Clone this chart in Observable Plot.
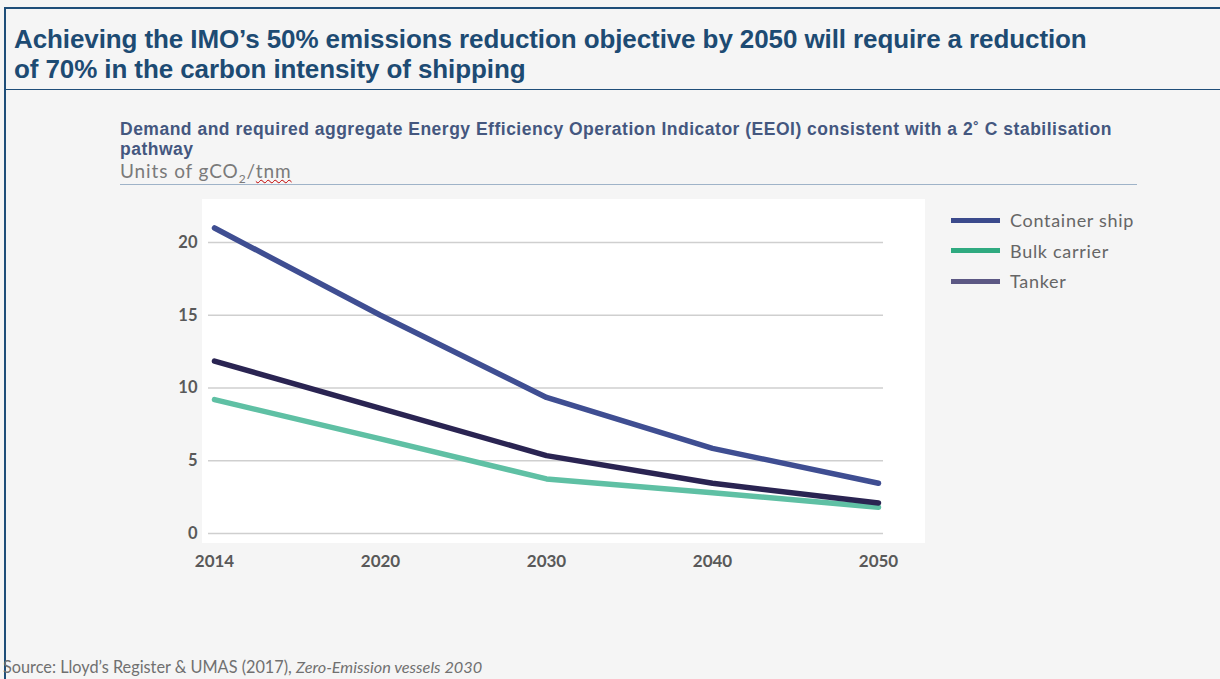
<!DOCTYPE html>
<html>
<head>
<meta charset="utf-8">
<script src="https://cdn.jsdelivr.net/npm/d3@7"></script>
<script src="https://cdn.jsdelivr.net/npm/@observablehq/plot@0.6"></script>
<style>
  html, body { margin: 0; padding: 0; }
  body { width: 1220px; height: 679px; background: #f5f5f5; position: relative; overflow: hidden; font-family: Lato, "Open Sans", sans-serif; }
  .frame-top { position: absolute; left: 5px; top: 7px; width: 1215px; height: 0; border-top: 2px solid #1f4e79; }
  .frame-left { position: absolute; left: 4px; top: 7px; width: 0; height: 672px; border-left: 2px solid #1f4e79; }
  .title-rule { position: absolute; left: 5px; top: 89px; width: 1215px; border-top: 1.5px solid #1f4e79; }
  h1 { position: absolute; left: 14px; top: 24px; margin: 0; font-family: "Liberation Sans", Arial, sans-serif; font-weight: bold; font-size: 26px; line-height: 30px; color: #1d4b73; letter-spacing: -0.1px; white-space: nowrap; }
  .sub { position: absolute; left: 120px; top: 119px; width: 1010px; font-family: "Liberation Sans", Arial, sans-serif; font-weight: bold; font-size: 17.5px; line-height: 20px; color: #44577f; letter-spacing: 0.5px; }
  .units { position: absolute; left: 120px; top: 159px; font-family: Lato, sans-serif; font-size: 19px; letter-spacing: 0.9px; color: #7a7a7a; }
  .units span.u { text-decoration: underline wavy #c00000; text-decoration-thickness: 1px; }
  .sub-rule { position: absolute; left: 120px; top: 184px; width: 1017px; border-top: 1.5px solid #9fb3c8; }
  .panel { position: absolute; left: 202px; top: 199px; width: 723px; height: 344px; background: #ffffff; }
  #chart { position: absolute; left: 140px; top: 190px; }
  .legend { position: absolute; left: 951px; top: 205px; font-family: Lato, sans-serif; font-size: 18px; letter-spacing: 0.7px; color: #666; }
  .legend div { height: 30.5px; display: flex; align-items: center; }
  .legend i { display: inline-block; width: 49px; height: 5px; margin-right: 10px; }
  .source { position: absolute; left: 3px; top: 657px; font-family: Lato, sans-serif; font-size: 16.3px; color: #707070; }
</style>
</head>
<body>
<div class="frame-top"></div>
<div class="frame-left"></div>
<h1>Achieving the IMO’s 50% emissions reduction objective by 2050 will require a reduction<br>of 70% in the carbon intensity of shipping</h1>
<div class="title-rule"></div>
<div class="sub">Demand and required aggregate Energy Efficiency Operation Indicator (EEOI) consistent with a 2˚ C stabilisation pathway</div>
<div class="units">Units of gCO<sub style="font-size:12px">2</sub>/<span class="u">tnm</span></div>
<div class="sub-rule"></div>
<div class="panel"></div>
<div id="chart"></div>
<div class="legend" id="legend"></div>
<div class="source">Source: Lloyd’s Register &amp; UMAS (2017), <i>Zero-Emission vessels 2030</i></div>
<script>
const years = ["2014", "2020", "2030", "2040", "2050"];
const containerShip = [21.0, 15.0, 9.35, 5.85, 3.45];
const bulkCarrier = [9.2, 6.5, 3.75, 2.8, 1.8];
const tanker = [11.85, 8.6, 5.35, 3.45, 2.1];
const seriesNames = ["Container ship", "Bulk carrier", "Tanker"];
const lineColors = ["#3f4e92", "#5fc0a4", "#2a2452"];
const legendColors = ["#3b4a8c", "#2faa80", "#5c5884"];
const yTicks = [0, 5, 10, 15, 20];

const seriesValues = [containerShip, bulkCarrier, tanker];
const rows = [];
seriesNames.forEach((name, i) => {
  years.forEach((yr, j) => rows.push({series: name, year: yr, value: seriesValues[i][j]}));
});

const chart = Plot.plot({
  width: 800,
  height: 390,
  marginLeft: 68,
  marginRight: 57,
  marginTop: 52,
  marginBottom: 47,
  style: {background: "transparent", fontFamily: "Lato, sans-serif", overflow: "visible"},
  x: {type: "point", domain: years, padding: 0.03, label: null},
  y: {domain: [0, 20], label: null},
  color: {domain: seriesNames, range: lineColors},
  marks: [
    Plot.ruleY(yTicks, {stroke: "#cfcfcf", strokeWidth: 1.5, strokeOpacity: 1}),
    Plot.axisY({ticks: yTicks, tickSize: 0, tickPadding: 11, fontSize: 16.5, fontWeight: "bold", fill: "#595959", label: null}),
    Plot.axisX({tickSize: 0, tickPadding: 21, fontSize: 17, fontWeight: "bold", fill: "#595959", label: null}),
    Plot.line(rows, {x: "year", y: "value", z: "series", stroke: "series", strokeWidth: 5.5, strokeLinecap: "round", strokeLinejoin: "round"})
  ]
});
document.getElementById("chart").appendChild(chart);

const legend = document.getElementById("legend");
seriesNames.forEach((name, i) => {
  const d = document.createElement("div");
  d.innerHTML = `<i style="background:${legendColors[i]}"></i>${name}`;
  legend.appendChild(d);
});
</script>
</body>
</html>
